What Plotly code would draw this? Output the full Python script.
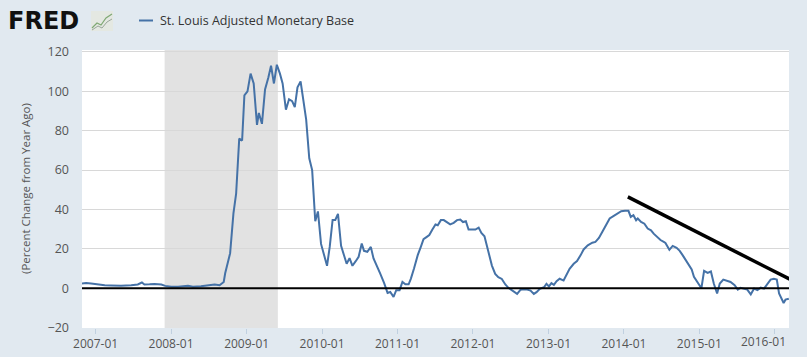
import plotly.graph_objects as go

# ---------------- data ----------------
dates = [
    "2006-10-27", "2006-11-16", "2006-12-10", "2007-01-13", "2007-02-14", "2007-03-16",
    "2007-05-04", "2007-06-22", "2007-07-24", "2007-08-13", "2007-08-25", "2007-09-19",
    "2007-10-13", "2007-11-15", "2007-12-04", "2008-01-02", "2008-02-04", "2008-03-23",
    "2008-04-16", "2008-05-25", "2008-07-06", "2008-07-30", "2008-08-23", "2008-09-04",
    "2008-09-12", "2008-09-19", "2008-10-13", "2008-10-29", "2008-11-11", "2008-11-26",
    "2008-12-10", "2008-12-21", "2009-01-05", "2009-01-20", "2009-02-04", "2009-02-20",
    "2009-03-01", "2009-03-16", "2009-03-31", "2009-04-16", "2009-04-29", "2009-05-13",
    "2009-05-27", "2009-06-11", "2009-06-24", "2009-07-10", "2009-07-25", "2009-08-09",
    "2009-08-22", "2009-09-04", "2009-09-19", "2009-10-03", "2009-10-16", "2009-10-31",
    "2009-11-14", "2009-11-29", "2009-12-12", "2009-12-27", "2010-01-08", "2010-01-25",
    "2010-02-07", "2010-02-21", "2010-03-06", "2010-03-19", "2010-04-03", "2010-04-17",
    "2010-04-30", "2010-05-14", "2010-05-28", "2010-06-12", "2010-06-27", "2010-07-12",
    "2010-07-23", "2010-08-08", "2010-08-25", "2010-09-07", "2010-09-23", "2010-10-09",
    "2010-10-28", "2010-11-14", "2010-11-27", "2010-12-13", "2010-12-26", "2011-01-11",
    "2011-01-25", "2011-02-08", "2011-02-24", "2011-03-07", "2011-03-22", "2011-04-09",
    "2011-04-24", "2011-05-07", "2011-05-23", "2011-06-04", "2011-06-19", "2011-07-04",
    "2011-07-15", "2011-07-30", "2011-08-13", "2011-08-28", "2011-09-13", "2011-09-30",
    "2011-10-16", "2011-11-01", "2011-11-14", "2011-11-28", "2011-12-11", "2011-12-28",
    "2012-01-13", "2012-01-29", "2012-02-11", "2012-02-26", "2012-03-09", "2012-03-25",
    "2012-04-02", "2012-04-18", "2012-05-03", "2012-05-20", "2012-06-06", "2012-06-21",
    "2012-07-11", "2012-08-02", "2012-08-18", "2012-09-04", "2012-09-20", "2012-10-06",
    "2012-10-22", "2012-11-04", "2012-11-20", "2012-12-10", "2012-12-22", "2013-01-03",
    "2013-01-15", "2013-01-27", "2013-02-09", "2013-02-24", "2013-03-15", "2013-03-28",
    "2013-04-13", "2013-05-03", "2013-05-19", "2013-06-05", "2013-06-20", "2013-07-10",
    "2013-08-01", "2013-08-16", "2013-09-02", "2013-09-18", "2013-10-04", "2013-10-24",
    "2013-11-11", "2013-12-01", "2013-12-19", "2014-01-06", "2014-01-23", "2014-02-03",
    "2014-02-16", "2014-03-01", "2014-03-09", "2014-03-25", "2014-04-10", "2014-04-26",
    "2014-05-12", "2014-05-25", "2014-06-11", "2014-06-27", "2014-07-13", "2014-07-21",
    "2014-08-09", "2014-08-25", "2014-09-13", "2014-09-28", "2014-10-12", "2014-10-28",
    "2014-11-10", "2014-11-25", "2014-12-06", "2014-12-25", "2015-01-11", "2015-01-24",
    "2015-02-10", "2015-02-26", "2015-03-12", "2015-03-28", "2015-04-10", "2015-04-27",
    "2015-05-13", "2015-06-01", "2015-06-21", "2015-07-06", "2015-07-19", "2015-08-05",
    "2015-08-21", "2015-09-07", "2015-09-23", "2015-10-09", "2015-10-25", "2015-11-10",
    "2015-11-27", "2015-12-12", "2015-12-28", "2016-01-11", "2016-01-22", "2016-02-03",
    "2016-02-13", "2016-02-22", "2016-03-09",
]
values = [
    2.4, 2.7, 2.4, 1.9, 1.5, 1.4,
    1.2, 1.5, 1.9, 2.9, 1.9, 2.0,
    2.2, 1.9, 1.2, 0.8, 0.8, 1.2,
    0.8, 1.0, 1.5, 1.9, 1.5, 2.4,
    3.2, 7.6, 17.8, 38.0, 48.0, 76.0,
    75.0, 98.0, 100.0, 109.0, 104.0, 83.0,
    89.0, 83.5, 101.0, 107.0, 113.0, 104.0,
    113.5, 109.0, 104.0, 90.7, 96.0, 95.0,
    92.0, 102.0, 105.0, 95.0, 85.6, 66.0,
    60.0, 34.0, 39.0, 22.5, 17.8, 11.4,
    21.0, 34.7, 34.7, 37.8, 21.5, 17.0,
    12.4, 15.3, 11.4, 13.6, 16.0, 22.7,
    19.0, 18.5, 21.0, 15.1, 11.7, 7.5,
    2.7, -2.4, -1.9, -4.4, -1.0, -1.0,
    3.2, 2.0, 2.0, 4.9, 10.0, 16.8,
    21.0, 24.9, 26.1, 27.0, 29.8, 32.4,
    32.0, 34.6, 34.6, 33.6, 32.4, 33.2,
    34.6, 34.9, 33.6, 34.0, 29.8, 29.8,
    29.8, 30.8, 28.1, 26.4, 21.9, 15.9,
    11.5, 7.3, 5.6, 4.7, 1.9, 0.2,
    -1.2, -2.9, -0.8, -0.5, -0.7, -1.2,
    -2.9, -2.0, -0.3, 0.5, 2.2, 0.9,
    2.6, 1.7, 3.6, 4.8, 3.9, 6.5,
    9.9, 12.4, 13.8, 16.7, 19.7, 21.8,
    23.1, 23.5, 25.5, 28.6, 32.0, 35.4,
    36.6, 37.9, 39.1, 39.3, 39.3, 36.2,
    37.1, 34.5, 35.4, 33.7, 32.8, 30.3,
    29.4, 27.7, 26.0, 24.5, 23.5, 23.0,
    19.5, 21.5, 20.5, 19.0, 16.8, 14.1,
    12.5, 9.5, 5.8, 2.7, 0.0, 8.8,
    7.8, 8.5, 2.4, -2.7, 2.4, 4.4,
    3.8, 3.2, 1.5, -0.7, 0.2, -0.2,
    -0.7, -3.1, -0.2, -1.0, 0.3, -0.2,
    2.4, 4.4, 4.8, 4.4, -2.7, -5.3,
    -7.5, -5.8, -5.3,
]

series_name = "St. Louis Adjusted Monetary Base"
y_title = "(Percent Change from Year Ago)"
recession_start = "2007-12-01"
recession_end = "2009-06-01"
trend_dates = ["2014-01-20", "2016-03-17"]
trend_values = [46.4, 4.4]
y_ticks = [-20, 0, 20, 40, 60, 80, 100, 120]
x_tick_dates = ["2007-01-01", "2008-01-01", "2009-01-01", "2010-01-01", "2011-01-01",
                "2012-01-01", "2013-01-01", "2014-01-01", "2015-01-01", "2016-01-01"]
x_tick_labels = ["2007-01", "2008-01", "2009-01", "2010-01", "2011-01",
                 "2012-01", "2013-01", "2014-01", "2015-01", "2016-01"]
x_range = ["2006-10-27", "2016-03-10"]
y_range = [-20.2, 121]

# ---------------- layout helpers ----------------
W, H = 807, 357
ML, MR, MT, MB = 82, 18, 50, 29
PW, PH = W - ML - MR, H - MT - MB


def px(x):
    return (x - ML) / PW


def py(y):
    return (H - MB - y) / PH


FONT = "Open Sans, Arial, sans-serif"
BG = "#e1e9f0"
LINE = "#4572a7"
TXT = "#555555"

fig = go.Figure()

fig.add_trace(go.Scatter(
    x=dates, y=values, mode="lines", name=series_name,
    line=dict(color=LINE, width=2), showlegend=False,
))

fig.add_trace(go.Scatter(
    x=trend_dates, y=trend_values, mode="lines",
    line=dict(color="black", width=3.5), showlegend=False, hoverinfo="skip",
))

shapes = [
    # recession shading
    dict(type="rect", xref="x", yref="paper", x0=recession_start, x1=recession_end,
         y0=0, y1=1, fillcolor="#e2e2e2", line=dict(width=0), layer="below"),
    # zero line
    dict(type="line", xref="paper", yref="y", x0=0, x1=1, y0=0, y1=0,
         line=dict(color="black", width=2.2)),
    # legend sample
    dict(type="line", xref="paper", yref="paper", x0=px(139), x1=px(153),
         y0=py(20.5), y1=py(20.5), line=dict(color=LINE, width=2)),
    # logo icon
    dict(type="rect", xref="paper", yref="paper", x0=px(91), x1=px(113),
         y0=py(31), y1=py(11), fillcolor="#e4e8e2", line=dict(width=0)),
    dict(type="path", xref="paper", yref="paper",
         path="M {} {} L {} {} L {} {} L {} {} L {} {}".format(
             px(92), py(28), px(97), py(23), px(101), py(25), px(106), py(18), px(112), py(14)),
         line=dict(color="#7fa874", width=1.2)),
    dict(type="path", xref="paper", yref="paper",
         path="M {} {} L {} {} L {} {} L {} {} L {} {}".format(
             px(92), py(30), px(98), py(26), px(102), py(28), px(107), py(22), px(112), py(19)),
         line=dict(color="#9aa69a", width=1.0)),
]

# last tick label is justified left by the original chart so it fits the frame
axis_labels = x_tick_labels[:-1] + [""]

annotations = [
    dict(text="<b>FRED</b>", xref="paper", yref="paper", x=px(6), y=py(21),
         xanchor="left", yanchor="middle", showarrow=False,
         font=dict(family="DejaVu Sans, Arial Black, sans-serif", size=24, color="#111")),
    dict(text=series_name, xref="paper", yref="paper", x=px(158), y=py(20),
         xanchor="left", yanchor="middle", showarrow=False,
         font=dict(family=FONT, size=12.5, color="#333")),
    dict(text=y_title, xref="paper", yref="paper", x=px(25), y=0.5, textangle=-90,
         xanchor="center", yanchor="middle", showarrow=False,
         font=dict(family=FONT, size=11.5, color=TXT)),
    dict(text=x_tick_labels[-1], xref="paper", yref="paper", x=px(763), y=py(341),
         xanchor="center", yanchor="middle", showarrow=False,
         font=dict(family=FONT, size=12, color=TXT)),
]

fig.update_layout(
    width=W, height=H,
    margin=dict(l=ML, r=MR, t=MT, b=MB, pad=0, autoexpand=False),
    paper_bgcolor=BG, plot_bgcolor="white",
    font=dict(family=FONT, size=12, color=TXT),
    shapes=shapes, annotations=annotations,
    xaxis=dict(
        type="date", range=x_range, tickvals=x_tick_dates, ticktext=axis_labels,
        showgrid=False, zeroline=False, showline=False, automargin=False,
        ticks="outside", ticklen=5, tickcolor="#c0d0e0",
        tickfont=dict(size=12, color=TXT),
    ),
    yaxis=dict(
        range=y_range, tickvals=y_ticks, showgrid=True, gridcolor="#d8d8d8",
        gridwidth=1, zeroline=False, showline=False, ticks="", ticklabelstandoff=12,
        automargin=False, tickfont=dict(size=12.5, color=TXT),
    ),
)

fig.write_html(
    "out.html",
    config={"displayModeBar": False},
    post_script="document.body.style.margin='0';document.body.style.background='%s';" % BG,
)
